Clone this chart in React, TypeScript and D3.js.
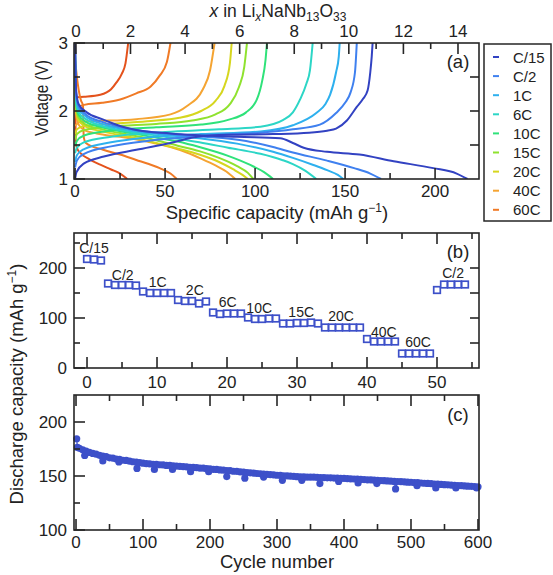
import React from "react";
import * as d3 from "d3";

// ---------- Panel (a) data: [capacity mAh/g, voltage V] ----------
const rateLabels = ["C/15", "C/2", "1C", "6C", "10C", "15C", "20C", "40C", "60C"];
const rateColors = ["#3242c2", "#3f80ef", "#2eb0ee", "#2cd6c6", "#2fe27a", "#8fe22e", "#d6d61e", "#f5a432", "#f07a26"];

const chargeC15: [number, number][] = [[0, 1.0], [0.8, 1.1], [5, 1.23], [16, 1.33], [34, 1.43], [53, 1.53], [68, 1.62], [85, 1.65], [110, 1.66], [130, 1.68], [140, 1.71], [145, 1.74], [151, 1.86], [156.5, 2.06], [160, 2.18], [162.5, 2.3], [164, 2.57], [164.8, 2.8], [165.3, 3.0]];
const dischargeC15: [number, number][] = [[0, 3.0], [0.6, 2.3], [2, 2.1], [6.5, 1.98], [15, 1.88], [25, 1.78], [34, 1.72], [53, 1.67], [90, 1.62], [114, 1.6], [121, 1.53], [127, 1.46], [140, 1.4], [158, 1.36], [177, 1.26], [199, 1.16], [212, 1.08], [218, 1.0]];
const chargeC2: [number, number][] = [[0, 1.17], [1, 1.27], [5, 1.37], [20, 1.48], [40, 1.56], [60, 1.61], [80, 1.65], [103, 1.68], [121, 1.73], [136, 1.8], [145, 1.97], [150, 2.12], [153, 2.27], [155.5, 2.57], [156.5, 3.0]];
const dischargeC2: [number, number][] = [[0, 2.95], [0.6, 2.25], [2, 2.07], [6, 1.95], [15, 1.84], [30, 1.74], [50, 1.67], [69, 1.63], [95, 1.56], [110, 1.47], [121, 1.39], [140, 1.27], [155, 1.16], [164, 1.08], [170, 1.0]];
const charge1C: [number, number][] = [[0, 1.25], [1, 1.35], [5, 1.44], [20, 1.54], [40, 1.61], [70, 1.66], [103, 1.7], [121, 1.79], [134, 1.97], [139, 2.1], [141.7, 2.24], [145, 2.57], [146.5, 2.8], [147, 3.0]];
const discharge1C: [number, number][] = [[0, 2.9], [0.6, 2.2], [2, 2.03], [6, 1.92], [15, 1.81], [30, 1.72], [50, 1.65], [69, 1.6], [90, 1.52], [110, 1.4], [121, 1.31], [132, 1.21], [140, 1.13], [146, 1.06], [149, 1.0]];
const charge6C: [number, number][] = [[0, 1.38], [1, 1.46], [5, 1.54], [20, 1.62], [50, 1.69], [80, 1.73], [103, 1.77], [115.7, 1.87], [121, 1.98], [125, 2.17], [128.5, 2.4], [130.5, 2.6], [132, 3.0]];
const discharge6C: [number, number][] = [[0, 2.85], [0.6, 2.15], [2, 1.98], [6, 1.88], [15, 1.78], [30, 1.7], [50, 1.62], [69, 1.54], [85, 1.46], [103, 1.37], [115, 1.28], [121, 1.22], [128, 1.12], [134, 1.0]];
const charge10C: [number, number][] = [[0, 1.48], [1, 1.56], [5, 1.64], [20, 1.71], [45, 1.76], [70, 1.8], [85, 1.87], [95, 1.98], [101, 2.17], [104, 2.45], [105.8, 2.75], [106.6, 3.0]];
const discharge10C: [number, number][] = [[0, 2.8], [0.6, 2.1], [2, 1.94], [6, 1.84], [15, 1.76], [30, 1.68], [45, 1.61], [57, 1.55], [69, 1.47], [85, 1.34], [97, 1.21], [105, 1.1], [110, 1.0]];
const charge15C: [number, number][] = [[0, 1.58], [1, 1.66], [5, 1.72], [20, 1.77], [45, 1.81], [65, 1.86], [78, 1.95], [86, 2.1], [91, 2.35], [94, 2.65], [95.5, 3.0]];
const discharge15C: [number, number][] = [[0, 2.75], [0.6, 2.05], [2, 1.9], [6, 1.8], [15, 1.73], [30, 1.65], [45, 1.57], [57, 1.49], [69, 1.41], [80, 1.31], [90, 1.19], [96, 1.09], [99, 1.0]];
const charge20C: [number, number][] = [[0, 1.66], [1, 1.73], [5, 1.78], [20, 1.81], [40, 1.85], [58, 1.9], [70, 2.0], [78, 2.15], [83, 2.37], [86, 2.7], [87, 3.0]];
const discharge20C: [number, number][] = [[0, 2.7], [0.6, 2.0], [2, 1.86], [6, 1.77], [15, 1.7], [30, 1.62], [45, 1.53], [57, 1.45], [69, 1.36], [80, 1.25], [88, 1.14], [93, 1.06], [96, 1.0]];
const charge40C: [number, number][] = [[0, 1.78], [2.8, 1.84], [10, 1.85], [34, 1.88], [53, 1.95], [62, 2.07], [71, 2.32], [75, 2.6], [77.5, 3.0]];
const discharge40C: [number, number][] = [[0, 2.6], [0.6, 1.95], [2, 1.8], [5, 1.72], [12, 1.67], [25, 1.62], [40, 1.55], [53, 1.47], [62, 1.39], [70, 1.3], [78, 1.2], [84, 1.11], [89, 1.0]];
const charge60Ca: [number, number][] = [[0, 2.05], [5, 2.09], [15, 2.12], [25, 2.17], [34, 2.26], [42, 2.36], [47, 2.52], [51, 2.72], [53, 3.0]];
const discharge60Ca: [number, number][] = [[0, 2.75], [1.5, 2.4], [3.2, 2.16], [4.4, 2.08], [4.8, 1.62], [6, 1.53], [15.6, 1.43], [25, 1.36], [34, 1.28], [41, 1.22], [47, 1.16], [53, 1.08], [56.5, 1.0]];
const charge60Cb: [number, number][] = [[0, 2.2], [5, 2.21], [14, 2.24], [20, 2.32], [23, 2.42], [26, 2.55], [28, 2.7], [29.5, 3.0]];
const discharge60Cb: [number, number][] = [[0, 3.0], [0.3, 1.55], [1, 1.46], [3, 1.38], [8, 1.29], [14, 1.21], [20, 1.14], [25, 1.08], [29, 1.0]];

// draw order: fast rates first, slow rates on top
const curveSets: { rate: string; pts: [number, number][]; shade?: string }[] = [
  { rate: "60C", pts: charge60Cb, shade: "#e4521c" },
  { rate: "60C", pts: discharge60Cb, shade: "#e4521c" },
  { rate: "60C", pts: charge60Ca },
  { rate: "60C", pts: discharge60Ca },
  { rate: "40C", pts: charge40C },
  { rate: "40C", pts: discharge40C },
  { rate: "20C", pts: charge20C },
  { rate: "20C", pts: discharge20C },
  { rate: "15C", pts: charge15C },
  { rate: "15C", pts: discharge15C },
  { rate: "10C", pts: charge10C },
  { rate: "10C", pts: discharge10C },
  { rate: "6C", pts: charge6C },
  { rate: "6C", pts: discharge6C },
  { rate: "1C", pts: charge1C },
  { rate: "1C", pts: discharge1C },
  { rate: "C/2", pts: chargeC2 },
  { rate: "C/2", pts: dischargeC2 },
  { rate: "C/15", pts: chargeC15 },
  { rate: "C/15", pts: dischargeC15 },
];

// ---------- Panel (b) data ----------
const rateCycles = [0, 1, 2, 3, 4, 5, 6, 7, 8, 9, 10, 11, 12, 13, 14, 15, 16, 17, 18, 19, 20, 21, 22, 23, 24, 25, 26, 27, 28, 29, 30, 31, 32, 33, 34, 35, 36, 37, 38, 39, 40, 41, 42, 43, 44, 45, 46, 47, 48, 49, 50, 51, 52, 53, 54];
const rateCapacity = [218, 217, 215, 169, 166, 166, 166, 165, 153, 150, 150, 150, 150, 136, 134, 134, 129, 133, 111, 108, 109, 109, 109, 101, 98, 98, 99, 99, 89, 89, 90, 90, 91, 89, 81, 81, 81, 81, 81, 81, 58, 53, 53, 53, 53, 29, 29, 29, 29, 29, 156, 167, 167, 167, 167];
const rateNotes: { text: string; cycle: number; cap: number }[] = [
  { text: "C/15", cycle: 1, cap: 240 },
  { text: "C/2", cycle: 5.1, cap: 186 },
  { text: "1C", cycle: 10.1, cap: 172 },
  { text: "2C", cycle: 15.4, cap: 156 },
  { text: "6C", cycle: 20.1, cap: 132 },
  { text: "10C", cycle: 24.6, cap: 120 },
  { text: "15C", cycle: 30.6, cap: 112 },
  { text: "20C", cycle: 36.3, cap: 104 },
  { text: "40C", cycle: 42.4, cap: 72 },
  { text: "60C", cycle: 47.3, cap: 52 },
  { text: "C/2", cycle: 52.3, cap: 190 },
];

// ---------- Panel (c) data ----------
const longCycles = [1, 2, 5, 10, 15, 20, 25, 30, 35, 40, 45, 50, 55, 60, 65, 70, 75, 80, 85, 90, 95, 100, 105, 110, 115, 120, 125, 130, 135, 140, 145, 150, 155, 160, 165, 170, 175, 180, 185, 190, 195, 200, 205, 210, 215, 220, 225, 230, 235, 240, 245, 250, 255, 260, 265, 270, 275, 280, 285, 290, 295, 300, 305, 310, 315, 320, 325, 330, 335, 340, 345, 350, 355, 360, 365, 370, 375, 380, 385, 390, 395, 400, 405, 410, 415, 420, 425, 430, 435, 440, 445, 450, 455, 460, 465, 470, 475, 480, 485, 490, 495, 500, 505, 510, 515, 520, 525, 530, 535, 540, 545, 550, 555, 560, 565, 570, 575, 580, 585, 590, 595, 600];
const longCapacity = [184.5, 176.5, 175.6, 174.2, 173.1, 171.8, 170.9, 170.2, 169.1, 168.4, 167.9, 166.8, 166.6, 165.7, 165.4, 164.6, 164.4, 163.7, 163.2, 162.9, 162.3, 161.9, 161.4, 161.3, 160.8, 160.9, 160.4, 160.3, 159.8, 159.9, 159.4, 159.2, 158.9, 158.7, 158.5, 158.1, 157.9, 157.8, 157.3, 157.2, 156.8, 156.7, 156.2, 156.1, 155.6, 155.4, 155.1, 154.9, 154.4, 154.3, 153.8, 153.6, 153.2, 152.9, 152.7, 152.3, 152.1, 151.8, 151.5, 151.3, 151.1, 150.7, 150.6, 150.2, 150.1, 149.8, 149.7, 149.4, 149.3, 149.1, 148.9, 149.0, 148.9, 148.8, 148.6, 148.5, 148.3, 148.3, 148.1, 148.0, 147.8, 147.8, 147.5, 147.4, 147.2, 147.1, 146.8, 146.7, 146.5, 146.4, 146.1, 146.0, 145.8, 145.7, 145.4, 145.3, 145.0, 144.9, 144.7, 144.6, 144.3, 144.2, 143.9, 143.8, 143.5, 143.3, 143.1, 142.9, 142.6, 142.5, 142.2, 142.0, 141.8, 141.6, 141.4, 141.2, 141.0, 140.8, 140.6, 140.4, 140.2, 140.0];
const dipCycles = [13, 40, 64, 91, 117, 144, 171, 198, 225, 252, 280, 308, 337, 364, 392, 421, 449, 477, 509, 537, 567, 598];
const dipCapacity = [169, 164, 163, 157, 156, 156, 154, 154, 149.5, 148, 149, 146, 146, 143, 145, 143.5, 143, 138, 141, 139, 139, 139];

// ---------- tick values ----------
const aBottomMajor = [0, 50, 100, 150, 200];
const aBottomMinor = [25, 75, 125, 175];
const aTopMajor = [0, 2, 4, 6, 8, 10, 12, 14];
const aTopMinor = [1, 3, 5, 7, 9, 11, 13];
const aLeftMajor = [1, 2, 3];
const aLeftMinor = [1.5, 2.5];
const bBottomMajor = [0, 10, 20, 30, 40, 50];
const bBottomMinor = [5, 15, 25, 35, 45, 55];
const bLeftMajor = [0, 100, 200];
const bLeftMinor = [50, 150, 250];
const bRight = [50, 100, 150, 200];
const cBottomMajor = [0, 100, 200, 300, 400, 500, 600];
const cBottomMinor = [50, 150, 250, 350, 450, 550];
const cLeftMajor = [100, 150, 200];
const cLeftMinor = [125, 175];

const FONT = "'Liberation Sans', Arial, Helvetica, sans-serif";
const AX = "#262626";
const MAJ = 11;
const MIN = 6;

type Box = { x0: number; x1: number; y0: number; y1: number };
const A: Box = { x0: 74, x1: 479, y0: 43, y1: 179 };
const B: Box = { x0: 74, x1: 479, y0: 233, y1: 368 };
const C: Box = { x0: 74, x1: 479, y0: 395, y1: 530 };

function HTicks({ scale, values, y, dir, len }: { scale: (v: number) => number; values: number[]; y: number; dir: number; len: number }) {
  return (
    <g>
      {values.map((v) => (
        <line key={v} x1={scale(v)} x2={scale(v)} y1={y} y2={y + dir * len} stroke={AX} strokeWidth={1.6} />
      ))}
    </g>
  );
}
function VTicks({ scale, values, x, dir, len }: { scale: (v: number) => number; values: number[]; x: number; dir: number; len: number }) {
  return (
    <g>
      {values.map((v) => (
        <line key={v} y1={scale(v)} y2={scale(v)} x1={x} x2={x + dir * len} stroke={AX} strokeWidth={1.6} />
      ))}
    </g>
  );
}
function Frame({ b }: { b: Box }) {
  return <rect x={b.x0} y={b.y0} width={b.x1 - b.x0} height={b.y1 - b.y0} fill="none" stroke={AX} strokeWidth={1.6} />;
}

export default function App() {
  // Panel a scales
  const axX = d3.scaleLinear().domain([-0.6, 224.4]).range([A.x0, A.x1]);
  const axTop = d3.scaleLinear().domain([-0.07, 14.77]).range([A.x0, A.x1]);
  const ayV = d3.scaleLinear().domain([1, 3]).range([A.y1, A.y0]);
  const colorOf = d3.scaleOrdinal<string, string>().domain(rateLabels).range(rateColors);
  const lineA = d3
    .line<[number, number]>()
    .x((d) => axX(d[0]))
    .y((d) => ayV(d[1]))
    .curve(d3.curveMonotoneX);

  // Panel b
  const bxS = d3.scaleLinear().domain([-1.86, 56]).range([B.x0, B.x1]);
  const byS = d3.scaleLinear().domain([0, 270]).range([B.y1, B.y0]);

  // Panel c
  const cxS = d3.scaleLinear().domain([-3, 601.5]).range([C.x0, C.x1]);
  const cyS = d3.scaleLinear().domain([100, 225]).range([C.y1, C.y0]);
  const longPts: [number, number][] = longCycles
    .map((c, i) => [c, longCapacity[i]] as [number, number])
    .concat(dipCycles.map((c, i) => [c, dipCapacity[i]] as [number, number]))
    .sort((a, b) => a[0] - b[0]);
  const lineC = d3
    .line<[number, number]>()
    .x((d) => cxS(d[0]))
    .y((d) => cyS(d[1]));

  const blue = "#3d50c9";
  const tickFont = 17;
  const titleFont = 18.5;

  return (
    <svg width={553} height={575} style={{ position: "absolute", left: 0, top: 0, background: "#fff" }} fontFamily={FONT}>
      <defs>
        <clipPath id="clipA">
          <rect x={A.x0} y={A.y0} width={A.x1 - A.x0} height={A.y1 - A.y0} />
        </clipPath>
      </defs>

      {/* ===== Panel (a) ===== */}
      <g clipPath="url(#clipA)">
        {curveSets.map((c, i) => (
          <path key={i} d={lineA(c.pts) || ""} fill="none" stroke={c.shade || colorOf(c.rate)} strokeWidth={2} strokeLinejoin="round" />
        ))}
      </g>
      <Frame b={A} />
      <HTicks scale={axX} values={aBottomMajor} y={A.y1} dir={-1} len={MAJ} />
      <HTicks scale={axX} values={aBottomMinor} y={A.y1} dir={-1} len={MIN} />
      <HTicks scale={axTop} values={aTopMajor} y={A.y0} dir={1} len={MAJ} />
      <HTicks scale={axTop} values={aTopMinor} y={A.y0} dir={1} len={MIN} />
      <VTicks scale={ayV} values={aLeftMajor} x={A.x0} dir={1} len={MAJ} />
      <VTicks scale={ayV} values={aLeftMinor} x={A.x0} dir={1} len={MIN} />
      <VTicks scale={ayV} values={[1.5, 2, 2.5]} x={A.x1} dir={-1} len={9} />
      {aBottomMajor.map((v) => (
        <text key={v} x={axX(v)} y={197} textAnchor="middle" fontSize={tickFont} fill="#222">
          {v}
        </text>
      ))}
      {aTopMajor.map((v) => (
        <text key={v} x={axTop(v)} y={37} textAnchor="middle" fontSize={tickFont} fill="#222">
          {v}
        </text>
      ))}
      {aLeftMajor.map((v) => (
        <text key={v} x={68} y={ayV(v) + 6} textAnchor="end" fontSize={tickFont} fill="#222">
          {v}
        </text>
      ))}
      <text x={278} y={17} textAnchor="middle" fontSize={17.5} fill="#222">
        <tspan fontStyle="italic">x</tspan>
        <tspan> in Li</tspan>
        <tspan fontStyle="italic" fontSize={12} dy={4}>x</tspan>
        <tspan dy={-4}>NaNb</tspan>
        <tspan fontSize={12} dy={4}>13</tspan>
        <tspan dy={-4}>O</tspan>
        <tspan fontSize={12} dy={4}>33</tspan>
      </text>
      <text x={277} y={219} textAnchor="middle" fontSize={titleFont} fill="#222">
        Specific capacity (mAh g<tspan fontSize={12} dy={-7}>−1</tspan>
        <tspan dy={7}>)</tspan>
      </text>
      <text transform="translate(48,98) rotate(-90)" textAnchor="middle" fontSize={18} textLength={76} lengthAdjust="spacingAndGlyphs" fill="#222">
        Voltage (V)
      </text>
      <text x={458} y={68} textAnchor="middle" fontSize={titleFont} fill="#222">
        (a)
      </text>

      {/* legend */}
      <rect x={484} y={44} width={67} height={177} fill="#fff" stroke={AX} strokeWidth={1.5} />
      {rateLabels.map((r, i) => (
        <g key={r} transform={`translate(0,${57 + i * 19.1})`}>
          <line x1={493} x2={499} y1={0} y2={0} stroke={colorOf(r)} strokeWidth={2} />
          <text x={513} y={5.5} fontSize={15} fill="#222">
            {r}
          </text>
        </g>
      ))}

      {/* ===== Panel (b) ===== */}
      <Frame b={B} />
      <HTicks scale={bxS} values={bBottomMajor} y={B.y1} dir={-1} len={MAJ} />
      <HTicks scale={bxS} values={bBottomMinor} y={B.y1} dir={-1} len={MIN} />
      <HTicks scale={bxS} values={bBottomMajor} y={B.y0} dir={1} len={MAJ} />
      <HTicks scale={bxS} values={bBottomMinor} y={B.y0} dir={1} len={MIN} />
      <VTicks scale={byS} values={bLeftMajor} x={B.x0} dir={1} len={MAJ} />
      <VTicks scale={byS} values={bLeftMinor} x={B.x0} dir={1} len={MIN} />
      <VTicks scale={byS} values={bRight} x={B.x1} dir={-1} len={9} />
      {bLeftMajor.map((v) => (
        <text key={v} x={67} y={byS(v) + 6} textAnchor="end" fontSize={tickFont} fill="#222">
          {v}
        </text>
      ))}
      {bBottomMajor.map((v) => (
        <text key={v} x={bxS(v)} y={388} textAnchor="middle" fontSize={tickFont} fill="#222">
          {v}
        </text>
      ))}
      {rateCycles.map((c, i) => (
        <rect key={i} x={bxS(c) - 3.3} y={byS(rateCapacity[i]) - 3.3} width={6.6} height={6.6} fill="#fff" stroke={blue} strokeWidth={1.7} />
      ))}
      {rateNotes.map((n, i) => (
        <text key={i} x={bxS(n.cycle)} y={byS(n.cap)} dy="0.36em" textAnchor="middle" fontSize={14} fill="#222">
          {n.text}
        </text>
      ))}
      <text x={458} y={258} textAnchor="middle" fontSize={titleFont} fill="#222">
        (b)
      </text>

      {/* ===== Panel (c) ===== */}
      <path d={lineC(longPts) || ""} fill="none" stroke={blue} strokeWidth={1.3} />
      {longPts.map((p, i) => (
        <circle key={i} cx={cxS(p[0])} cy={cyS(p[1])} r={3.6} fill={blue} />
      ))}
      <Frame b={C} />
      <HTicks scale={cxS} values={cBottomMajor} y={C.y1} dir={-1} len={MAJ} />
      <HTicks scale={cxS} values={cBottomMinor} y={C.y1} dir={-1} len={MIN} />
      <HTicks scale={cxS} values={cBottomMajor} y={C.y0} dir={1} len={MAJ} />
      <HTicks scale={cxS} values={cBottomMinor} y={C.y0} dir={1} len={MIN} />
      <VTicks scale={cyS} values={cLeftMajor} x={C.x0} dir={1} len={MAJ} />
      <VTicks scale={cyS} values={cLeftMinor} x={C.x0} dir={1} len={MIN} />
      {cLeftMajor.map((v) => (
        <text key={v} x={67} y={cyS(v) + 6} textAnchor="end" fontSize={tickFont} fill="#222">
          {v}
        </text>
      ))}
      {cBottomMajor.map((v) => (
        <text key={v} x={cxS(v)} y={548} textAnchor="middle" fontSize={tickFont} fill="#222">
          {v}
        </text>
      ))}
      <text x={277} y={568} textAnchor="middle" fontSize={titleFont} fill="#222">
        Cycle number
      </text>
      <text x={458} y={421} textAnchor="middle" fontSize={titleFont} fill="#222">
        (c)
      </text>
      <text transform={`translate(23,384) rotate(-90)`} textAnchor="middle" fontSize={titleFont} fill="#222">
        Discharge capacity (mAh g<tspan fontSize={12} dy={-7}>−1</tspan>
        <tspan dy={7}>)</tspan>
      </text>
    </svg>
  );
}
